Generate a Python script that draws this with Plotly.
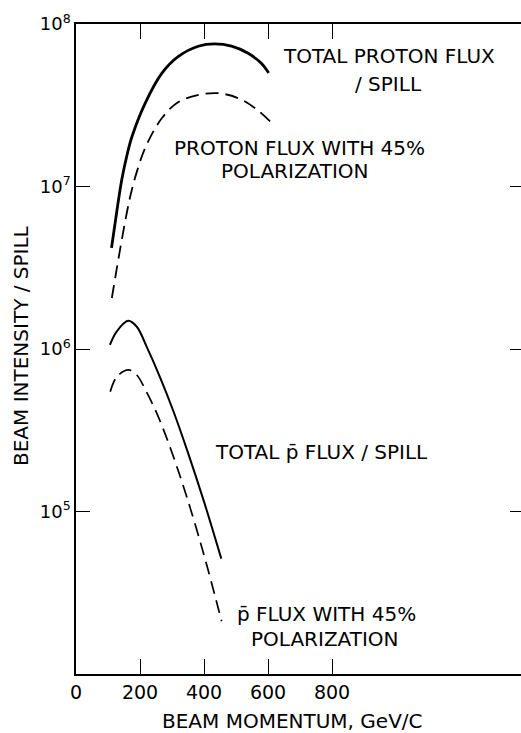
import plotly.graph_objects as go

# ---- data ----
p_total_x = [111, 127, 143, 160, 175, 216, 268, 319, 382, 434, 486, 538, 579, 602]
p_total_y = [4.19e6, 6.92e6, 1.10e7, 1.58e7, 2.03e7, 3.25e7, 4.97e7, 6.3e7, 7.3e7, 7.54e7, 7.3e7, 6.6e7, 5.73e7, 5.0e7]

p_pol_x = [112, 127, 142, 157, 172, 190, 217, 268, 320, 383, 445, 508, 560, 607]
p_pol_y = [2.06e6, 3.09e6, 4.57e6, 6.61e6, 9.12e6, 1.23e7, 1.74e7, 2.63e7, 3.31e7, 3.66e7, 3.75e7, 3.49e7, 3.03e7, 2.51e7]

pbar_total_x = [106, 127, 163, 190, 221, 263, 305, 348, 400, 454]
pbar_total_y = [1.06e6, 1.28e6, 1.49e6, 1.37e6, 1.03e6, 6.67e5, 4.11e5, 2.36e5, 1.15e5, 5.13e4]

pbar_pol_x = [107, 128, 164, 190, 217, 248, 280, 312, 345, 380, 415, 455]
pbar_pol_y = [5.46e5, 6.76e5, 7.43e5, 6.92e5, 5.6e5, 4.21e5, 2.95e5, 1.97e5, 1.25e5, 7.4e4, 4.21e4, 2.11e4]

x_tickvals = [0, 200, 400, 600, 800]
x_ticktext = ["0", "200", "400", "600", "800"]
y_tickvals = [1e5, 1e6, 1e7, 1e8]
y_ticktext = ["10<sup>5</sup>", "10<sup>6</sup>", "10<sup>7</sup>", "10<sup>8</sup>"]

W, H = 521, 733
L, R, T, B = 76, 0, 24, 59
PW, PH = W - L - R, H - T - B
FONT = "DejaVu Sans"


def px(xp, yp):
    return (xp - L) / PW, (H - B - yp) / PH


fig = go.Figure()
fig.add_trace(go.Scatter(x=p_total_x, y=p_total_y, mode="lines",
                         line=dict(color="black", width=2.8, shape="spline", smoothing=1.0)))
fig.add_trace(go.Scatter(x=p_pol_x, y=p_pol_y, mode="lines",
                         line=dict(color="black", width=1.8, shape="spline", smoothing=1.0,
                                   dash="13px,7px")))
fig.add_trace(go.Scatter(x=pbar_total_x, y=pbar_total_y, mode="lines",
                         line=dict(color="black", width=2.0, shape="spline", smoothing=1.0)))
fig.add_trace(go.Scatter(x=pbar_pol_x, y=pbar_pol_y, mode="lines",
                         line=dict(color="black", width=1.7, shape="spline", smoothing=1.0,
                                   dash="13px,7px")))
# dummy trace to activate the right-hand tick axis
fig.add_trace(go.Scatter(x=[None], y=[None], yaxis="y2", showlegend=False))

labels = [
    ("TOTAL PROTON FLUX", 389, 56),
    ("/ SPILL", 388, 84),
    ("PROTON FLUX WITH 45%", 299, 148),
    ("POLARIZATION", 295, 171),
    ("TOTAL p\u0304 FLUX / SPILL", 321, 452),
    ("p\u0304 FLUX WITH 45%", 326, 614),
    ("POLARIZATION", 325, 639),
]
annotations = []
for text, xp, yp in labels:
    ax, ay = px(xp, yp)
    annotations.append(dict(text=text, x=ax, y=ay, xref="paper", yref="paper",
                            xanchor="center", yanchor="middle", showarrow=False,
                            font=dict(family=FONT, size=20, color="black")))
ax, ay = px(292, 721)
annotations.append(dict(text="BEAM MOMENTUM, GeV/C", x=ax, y=ay, xref="paper", yref="paper",
                        xanchor="center", yanchor="middle", showarrow=False,
                        font=dict(family=FONT, size=20, color="black")))
ax, ay = px(21, 346)
annotations.append(dict(text="BEAM INTENSITY / SPILL", x=ax, y=ay, xref="paper", yref="paper",
                        xanchor="center", yanchor="middle", showarrow=False, textangle=-90,
                        font=dict(family=FONT, size=20, color="black")))

fig.update_layout(
    width=W, height=H,
    margin=dict(l=L, r=R, t=T, b=B, autoexpand=False),
    paper_bgcolor="white", plot_bgcolor="white",
    showlegend=False,
    font=dict(family=FONT, color="black"),
    annotations=annotations,
    xaxis=dict(range=[0, PW / 0.32], showgrid=False, zeroline=False,
               showline=True, linecolor="black", linewidth=1.5, mirror="ticks",
               ticks="inside", ticklen=15, tickwidth=1.3, tickcolor="black",
               tickvals=x_tickvals, ticktext=x_ticktext,
               tickfont=dict(family=FONT, size=19, color="black")),
    yaxis=dict(type="log", range=[4, 8], showgrid=False, zeroline=False,
               showline=True, linecolor="black", linewidth=1.5,
               ticks="inside", ticklen=14, tickwidth=1.3, tickcolor="black",
               tickvals=y_tickvals, ticktext=y_ticktext,
               tickfont=dict(family=FONT, size=18, color="black")),
    yaxis2=dict(type="log", range=[4, 8], overlaying="y", side="right",
                showgrid=False, zeroline=False, showline=False,
                ticks="inside", ticklen=11, tickwidth=1.3, tickcolor="black",
                tickvals=[1e5, 1e6, 1e7], showticklabels=False),
)

fig.write_html("out.html")
